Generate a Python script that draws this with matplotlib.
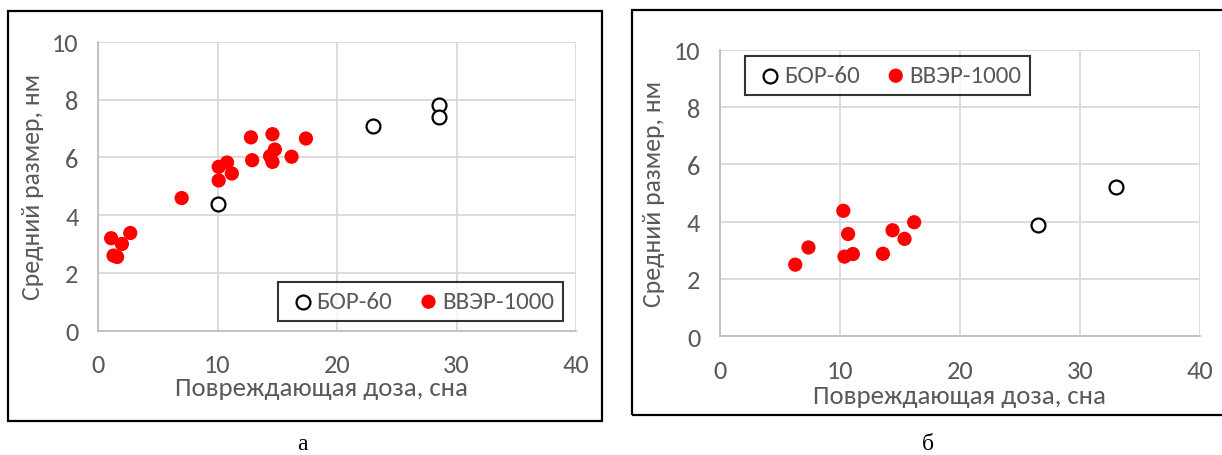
import matplotlib
matplotlib.use("Agg")
import matplotlib.pyplot as plt
from matplotlib.patches import Rectangle

plt.rcParams["font.family"] = ["Carlito", "DejaVu Sans"]

GRAY_TXT = "#595959"
GRID = "#d9d9d9"
RED = "#ff0000"

# (а) - доза, сна / средний размер, нм
bor_a_x = [10.0, 23.0, 28.5, 28.5]
bor_a_y = [4.4, 7.1, 7.8, 7.4]
vver_a_x = [1.1, 1.3, 1.6, 2.0, 2.7, 7.0, 10.1, 10.1, 10.8, 11.2, 12.8, 12.9,
            14.6, 14.8, 14.4, 14.6, 16.2, 17.4]
vver_a_y = [3.2, 2.6, 2.55, 3.0, 3.38, 4.59, 5.2, 5.67, 5.82, 5.44, 6.69, 5.9,
            6.8, 6.27, 6.04, 5.84, 6.02, 6.65]

# (б)
bor_b_x = [26.5, 33.0]
bor_b_y = [3.9, 5.2]
vver_b_x = [6.3, 7.4, 10.3, 10.7, 10.4, 11.1, 13.6, 14.4, 15.4, 16.2]
vver_b_y = [2.5, 3.1, 4.38, 3.57, 2.78, 2.87, 2.88, 3.7, 3.4, 3.98]

x_ticks = [0, 10, 20, 30, 40]
y_ticks = [0, 2, 4, 6, 8, 10]

W, H = 1222, 456
fig = plt.figure(figsize=(W / 100, H / 100), dpi=100)


def px(x0, y0, x1, y1):
    # пиксели (сверху вниз) -> доли фигуры
    return [x0 / W, 1 - y1 / H, (x1 - x0) / W, (y1 - y0) / H]


def panel(rect, bx, by, vx, vy, leg_anchor, leg_loc, xlab_x, xlab_y):
    ax = fig.add_axes(rect)
    ax.scatter(bx, by, s=100, facecolor="white", edgecolor="black",
               linewidth=1.6, zorder=3, label="БОР-60")
    ax.scatter(vx, vy, s=105, facecolor=RED, edgecolor="none",
               zorder=3, label="ВВЭР-1000")
    ax.set_xlim(0, 40)
    ax.set_ylim(0, 10)
    ax.set_xticks(x_ticks)
    ax.set_yticks(y_ticks)
    ax.grid(True, color=GRID, linewidth=1.3)
    ax.set_axisbelow(True)
    for s in ["top", "right"]:
        ax.spines[s].set_visible(False)
    for s in ["left", "bottom"]:
        ax.spines[s].set_color("#bfbfbf")
        ax.spines[s].set_linewidth(1.3)
    ax.tick_params(length=0, labelsize=19, labelcolor=GRAY_TXT)
    ax.tick_params(axis="x", pad=16)
    ax.tick_params(axis="y", pad=14)
    ax.set_xlabel("Повреждающая доза, сна", fontsize=19.3, color=GRAY_TXT,
                  va="center")
    ax.xaxis.set_label_coords(xlab_x, xlab_y)
    ax.set_ylabel("Средний размер, нм", fontsize=18.5, color=GRAY_TXT, labelpad=6)
    leg = ax.legend(loc=leg_loc, bbox_to_anchor=leg_anchor,
                    bbox_transform=fig.transFigure, ncol=2, fontsize=18,
                    frameon=True, fancybox=False, handletextpad=-0.1,
                    columnspacing=0.8, borderpad=0.35, borderaxespad=0,
                    handlelength=1.3, labelcolor=GRAY_TXT)
    leg.get_frame().set_edgecolor("black")
    leg.get_frame().set_linewidth(1.5)
    return ax


panel(px(98, 42.7, 576, 331.7), bor_a_x, bor_a_y, vver_a_x, vver_a_y,
      (563 / W, 1 - 322 / H), "lower right", 0.467, -0.195)
panel(px(719.6, 50.7, 1200, 337.3), bor_b_x, bor_b_y, vver_b_x, vver_b_y,
      (745 / W, 1 - 57 / H), "upper left", 0.5, -0.205)

# рамки вокруг панелей
fig.add_artist(Rectangle((8 / W, 1 - 422 / H), 594 / W, 410 / H,
                         transform=fig.transFigure, fill=False,
                         edgecolor="black", linewidth=1.6))
fig.add_artist(Rectangle((632 / W, 1 - 416 / H), 600 / W, 405 / H,
                         transform=fig.transFigure, fill=False,
                         edgecolor="black", linewidth=1.6))

fig.text(302 / W, 1 - 445 / H, "а", ha="center", va="center",
         fontsize=17, family="Liberation Serif")
fig.text(928 / W, 1 - 445 / H, "б", ha="center", va="center",
         fontsize=17, family="Liberation Serif")

fig.savefig("out.png", dpi=100, facecolor="white")
